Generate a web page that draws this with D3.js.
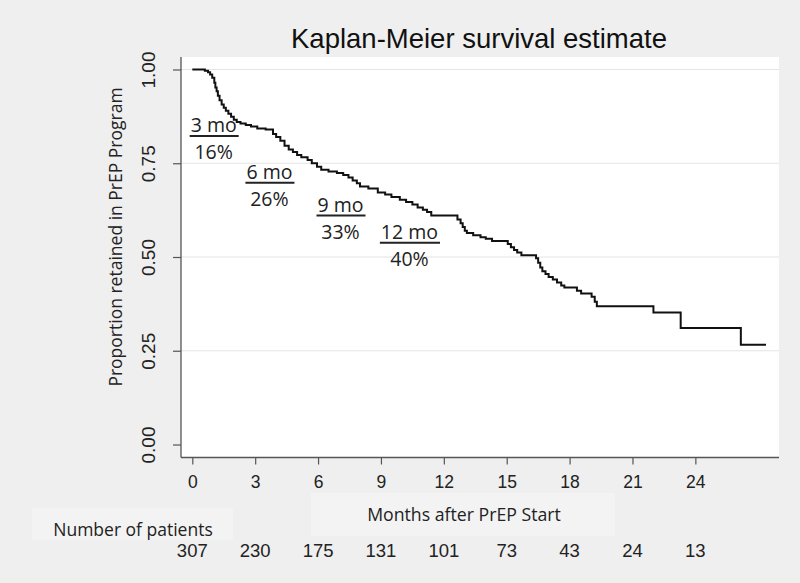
<!DOCTYPE html>
<html>
<head>
<meta charset="utf-8">
<script src="https://cdn.jsdelivr.net/npm/d3@7/dist/d3.min.js"></script>
<style>
  html, body { margin: 0; padding: 0; background: #efefef; }
  svg { display: block; }
</style>
</head>
<body>
<script>
// ---------- data ----------
const stepMonths = [0, 0.6, 0.75, 0.85, 0.95, 1.05, 1.1, 1.16, 1.22, 1.3, 1.4, 1.5, 1.6, 1.72, 1.85, 1.98,
  2.12, 2.3, 2.55, 2.8, 3.1, 3.5, 3.85, 4.0, 4.2, 4.4, 4.6, 4.8, 5.0, 5.2, 5.5, 5.7, 5.95,
  6.15, 6.5, 6.9, 7.2, 7.45, 7.65, 7.85, 8.0, 8.4, 8.85, 9.2, 9.5, 9.9, 10.2, 10.5, 10.75,
  11.0, 11.2, 11.4, 12.65, 12.8, 12.9, 13.0, 13.1, 13.4, 13.75, 14.0, 14.3, 15.05, 15.2,
  15.35, 15.5, 15.7, 16.4, 16.5, 16.6, 16.7, 16.85, 17.0, 17.2, 17.4, 17.6, 17.75, 18.35,
  18.55, 19.05, 19.2, 19.3, 22.0, 23.3, 26.17, 27.37];
const stepSurvival = [1.0, 0.997, 0.993, 0.987, 0.978, 0.965, 0.952, 0.942, 0.930, 0.918, 0.907, 0.898, 0.890, 0.882, 0.874, 0.866,
  0.860, 0.856, 0.852, 0.848, 0.843, 0.840, 0.828, 0.820, 0.810, 0.797, 0.787, 0.780, 0.772, 0.766, 0.759, 0.750, 0.741,
  0.733, 0.728, 0.724, 0.719, 0.712, 0.704, 0.697, 0.688, 0.683, 0.672, 0.667, 0.660, 0.653, 0.647, 0.640, 0.632,
  0.626, 0.620, 0.611, 0.600, 0.590, 0.580, 0.570, 0.564, 0.558, 0.553, 0.549, 0.543, 0.535, 0.526,
  0.519, 0.512, 0.505, 0.497, 0.485, 0.472, 0.462, 0.455, 0.447, 0.440, 0.432, 0.424, 0.419, 0.410,
  0.403, 0.394, 0.381, 0.369, 0.352, 0.311, 0.266, 0.266];

const xTicks = [0, 3, 6, 9, 12, 15, 18, 21, 24];
const yTicks = [0, 0.25, 0.5, 0.75, 1.0];
const yTickLabels = ["0.00", "0.25", "0.50", "0.75", "1.00"];
const gridValues = [0.25, 0.5, 0.75, 1.0];
const atRiskMonths = [0, 3, 6, 9, 12, 15, 18, 21, 24];
const atRiskCounts = [307, 230, 175, 131, 101, 73, 43, 24, 13];

const annoMonths = ["3 mo", "6 mo", "9 mo", "12 mo"];
const annoLost = ["16%", "26%", "33%", "40%"];

const titleText = "Kaplan-Meier survival estimate";
const xLabel = "Months after PrEP Start";
const yLabel = "Proportion retained in PrEP Program";
const riskLabel = "Number of patients";

// ---------- layout ----------
const W = 800, H = 583;
const plot = { left: 181, right: 779, top: 57, bottom: 457.5 };
// annotation anchor (centre of underline) in data units
const annoAnchor = [ {m: 1.02, s: 0.823}, {m: 3.68, s: 0.698}, {m: 7.07, s: 0.611}, {m: 10.36, s: 0.538} ];

const x = d3.scaleLinear().domain([0, 28]).range([192.3, 779.2]);
const y = d3.scaleLinear().domain([0, 1]).range([444.5, 69.5]);

const svg = d3.select("body").append("svg").attr("width", W).attr("height", H);
svg.append("rect").attr("width", W).attr("height", H).attr("fill", "#efefef");

// light boxes behind lower labels
svg.append("rect").attr("x", 311).attr("y", 493).attr("width", 304).attr("height", 43).attr("fill", "#f3f3f3");
svg.append("rect").attr("x", 32).attr("y", 508).attr("width", 201).attr("height", 32).attr("fill", "#f3f3f3");

// plot area
svg.append("rect").attr("x", plot.left).attr("y", plot.top)
  .attr("width", plot.right - plot.left).attr("height", plot.bottom - plot.top).attr("fill", "#ffffff");

// gridlines
svg.append("g").selectAll("line").data(gridValues).join("line")
  .attr("x1", plot.left).attr("x2", plot.right)
  .attr("y1", d => y(d)).attr("y2", d => y(d))
  .attr("stroke", "#e4e4e4").attr("stroke-width", 1.2);

// y axis
const yAxis = d3.axisLeft(y).tickValues(yTicks).tickSize(8).tickSizeOuter(0)
  .tickFormat((d, i) => yTickLabels[i]);
const gy = svg.append("g").attr("transform", `translate(${plot.left},0)`).call(yAxis);
gy.select(".domain").remove();
gy.selectAll(".tick line").attr("stroke", "#555").attr("stroke-width", 1.2);
gy.selectAll(".tick text")
  .attr("font-family", "Liberation Sans, Arial, sans-serif").attr("font-size", 19).attr("fill", "#222")
  .attr("transform", "rotate(-90)").attr("x", 0).attr("y", -26).attr("dy", "0").attr("dx", 0)
  .attr("text-anchor", "middle");
svg.append("line").attr("x1", plot.left).attr("x2", plot.left).attr("y1", plot.top).attr("y2", plot.bottom)
  .attr("stroke", "#555").attr("stroke-width", 1.3);

// x axis
const xAxis = d3.axisBottom(x).tickValues(xTicks).tickSize(7).tickSizeOuter(0);
const gx = svg.append("g").attr("transform", `translate(0,${plot.bottom})`).call(xAxis);
gx.select(".domain").remove();
gx.selectAll(".tick line").attr("stroke", "#555").attr("stroke-width", 1.2);
gx.selectAll(".tick text")
  .attr("font-family", "Liberation Sans, Arial, sans-serif").attr("font-size", 17.5).attr("fill", "#222")
  .attr("y", 30).attr("dy", 0);
svg.append("line").attr("x1", plot.left).attr("x2", plot.right).attr("y1", plot.bottom).attr("y2", plot.bottom)
  .attr("stroke", "#555").attr("stroke-width", 1.3);

// survival curve
const pts = stepMonths.map((m, i) => [m, stepSurvival[i]]);
const line = d3.line().x(d => x(d[0])).y(d => y(d[1])).curve(d3.curveStepAfter);
svg.append("path").datum(pts).attr("d", line)
  .attr("fill", "none").attr("stroke", "#111").attr("stroke-width", 2);

// annotations
const fontAnno = "Open Sans, Noto Sans, sans-serif";
const ga = svg.append("g");
annoMonths.forEach((t, i) => {
  const cx = x(annoAnchor[i].m), uy = y(annoAnchor[i].s);
  const txt = ga.append("text").attr("x", cx).attr("y", uy - 3.5).attr("text-anchor", "middle")
    .attr("font-family", fontAnno).attr("font-size", 19.5).attr("fill", "#222").text(t);
  const w = txt.node().getComputedTextLength();
  ga.append("line").attr("x1", cx - w / 2 - 1).attr("x2", cx + w / 2 + 2)
    .attr("y1", uy).attr("y2", uy).attr("stroke", "#222").attr("stroke-width", 2);
  ga.append("text").attr("x", cx).attr("y", uy + 23.5).attr("text-anchor", "middle")
    .attr("font-family", fontAnno).attr("font-size", 19.5).attr("fill", "#222").text(annoLost[i]);
});

// title
svg.append("text").attr("x", 479).attr("y", 48).attr("text-anchor", "middle")
  .attr("font-family", "Liberation Sans, Arial, sans-serif").attr("font-size", 27.5).attr("fill", "#111")
  .text(titleText);

// axis titles
svg.append("text").attr("transform", `translate(122,237) rotate(-90)`).attr("text-anchor", "middle")
  .attr("font-family", fontAnno).attr("font-size", 17.5).attr("fill", "#222").text(yLabel);
svg.append("text").attr("x", 464).attr("y", 521).attr("text-anchor", "middle")
  .attr("font-family", fontAnno).attr("font-size", 17.7).attr("fill", "#222").text(xLabel);

// number at risk
svg.append("text").attr("x", 133).attr("y", 536).attr("text-anchor", "middle")
  .attr("font-family", fontAnno).attr("font-size", 17.5).attr("fill", "#222").text(riskLabel);
svg.append("g").selectAll("text").data(atRiskCounts).join("text")
  .attr("x", (d, i) => x(atRiskMonths[i])).attr("y", 557).attr("text-anchor", "middle")
  .attr("font-family", "Liberation Sans, Arial, sans-serif").attr("font-size", 18.5).attr("fill", "#222")
  .text(d => d);
</script>
</body>
</html>
